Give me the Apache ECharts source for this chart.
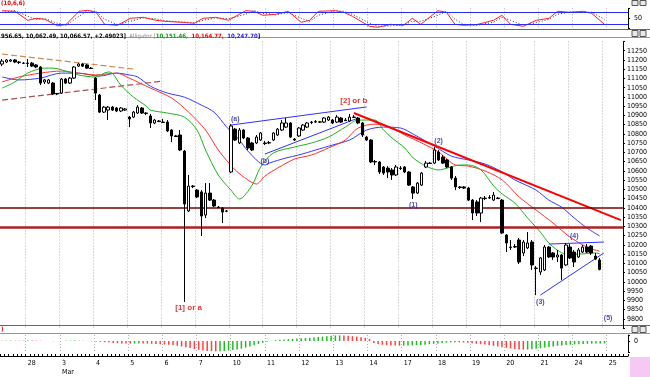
<!DOCTYPE html>
<html>
<head>
<meta charset="utf-8">
<script src="https://cdn.jsdelivr.net/npm/echarts@6/dist/echarts.min.js"></script>
<style>
html, body { margin: 0; padding: 0; background: #fff; }
#chart { width: 650px; height: 377px; }
</style>
</head>
<body>
<div id="chart"></div>
<script>
// Session labels on the time ruler (8 hourly bars per session)
const dayLabels = ['28', '3', '4', '5', '6', '7', '10', '11', '12', '13', '14', '17', '18', '19', '20', '21', '24', '25'];
const firstDayStart = 6;
const barsPerDay = 8;
const slotCount = 147;

// Hourly OHLC
const opens = [11178,11189,11194,11200,11189,11183,11183,11183,11173,11162,11081,11075,11075,11016,11021,11097,11075,11102,11167,11178,11173,11156,
  11102,11010,10918,10929,10945,10940,10924,10929,10891,10891,10913,10940,10913,10897,10859,10870,10864,10864,10821,10789,10794,10707,10383,10518,
  10496,10486,10361,10480,10442,10404,10399,10383,10594,10826,10751,10821,10778,10751,10751,10767,10751,10751,10767,10794,10821,10837,10859,10772,
  10789,10821,10837,10864,10864,10864,10864,10875,10875,10864,10886,10875,10870,10891,10886,10859,10783,10767,10648,10648,10621,10615,10605,10578,
  10615,10621,10594,10513,10480,10523,10621,10642,10642,10702,10675,10659,10621,10561,10513,10513,10507,10442,10432,10372,10453,10453,10442,10453,
  10442,10253,10188,10188,10226,10156,10183,10215,10074,10053,10064,10188,10156,10134,10145,10091,10188,10161,10134,10161,10188,10193,10139,10118];
const closes = [11194,11200,11200,11189,11186,11182,11181,11167,11162,11075,11092,11092,11016,11019,11097,11075,11102,11162,11178,11167,11156,11154,
  11021,10918,10945,10945,10929,10924,10940,10935,10881,10918,10945,10913,10910,10859,10875,10867,10862,10816,10789,10786,10713,10421,10518,10515,
  10459,10356,10480,10442,10410,10402,10377,10382,10843,10767,10821,10778,10724,10713,10783,10805,10748,10753,10805,10826,10859,10859,10783,10767,
  10832,10848,10859,10862,10867,10865,10886,10891,10859,10891,10864,10872,10891,10889,10859,10794,10767,10648,10651,10594,10588,10594,10578,10621,
  10613,10594,10523,10480,10534,10588,10642,10640,10713,10659,10642,10621,10561,10513,10510,10507,10442,10372,10372,10453,10450,10456,10469,10450,
  10264,10210,10185,10191,10107,10215,10210,10091,10072,10129,10188,10134,10134,10145,10074,10199,10129,10107,10172,10188,10161,10156,10123,10067];
const lows = [11167,11183,11189,11183,11178,11178,11162,11162,11156,11064,11070,11070,11010,11010,11016,11070,11070,11097,11162,11162,11151,11151,
  10983,10913,10913,10875,10924,10918,10918,10924,10837,10886,10908,10908,10902,10832,10853,10864,10859,10810,10756,10783,10707,9891,10377,10507,
  10453,10248,10345,10437,10404,10399,10318,10377,10588,10762,10745,10772,10713,10707,10745,10762,10740,10745,10762,10789,10816,10832,10778,10762,
  10783,10816,10832,10853,10859,10859,10859,10870,10853,10859,10859,10870,10864,10886,10853,10783,10762,10642,10632,10583,10578,10561,10551,10572,
  10605,10588,10518,10448,10475,10518,10615,10637,10637,10653,10637,10615,10551,10496,10502,10502,10437,10334,10356,10323,10442,10448,10437,10448,
  10258,10161,10172,10183,10096,10139,10177,10064,9928,10037,10058,10129,10118,10107,10010,10085,10123,10080,10129,10156,10156,10145,10118,10062];
const highs = [11205,11205,11205,11205,11194,11189,11205,11189,11178,11167,11097,11097,11081,11021,11102,11102,11108,11167,11183,11183,11178,11162,
  11108,11016,10951,10951,10951,10945,10945,10940,10897,10924,10956,10945,10918,10908,10881,10875,10881,10875,10826,10794,10821,10713,10578,10523,
  10502,10496,10534,10534,10448,10410,10404,10388,10853,10832,10832,10826,10783,10756,10794,10810,10762,10762,10810,10832,10875,10886,10864,10778,
  10837,10853,10864,10870,10875,10870,10891,10897,10881,10902,10891,10886,10908,10902,10891,10864,10789,10772,10659,10653,10626,10626,10615,10632,
  10626,10626,10599,10518,10540,10594,10653,10648,10729,10713,10686,10664,10626,10572,10518,10518,10513,10448,10442,10459,10464,10469,10486,10459,
  10448,10258,10226,10204,10237,10226,10269,10226,10085,10134,10199,10193,10161,10172,10150,10210,10204,10172,10183,10199,10204,10199,10156,10129];

// Alligator lines [bar, level]
const lips = [[0,11048],[3,11081],[6,11129],[10,11156],[12,11156],[15,11140],[18,11119],[22,11108],[25,11135],[26,11129],[28,11064],[31,10999],
  [34,10951],[35,10929],[39,10913],[43,10891],[46,10821],[48,10713],[51,10578],[54,10496],[56,10448],[59,10523],[61,10621],[64,10697],[69,10729],
  [73,10751],[77,10783],[81,10837],[84,10875],[88,10875],[90,10821],[92,10778],[95,10724],[97,10670],[100,10626],[103,10605],[105,10615],[108,10632],
  [110,10632],[113,10605],[116,10518],[118,10475],[121,10426],[124,10345],[127,10269],[129,10210],[131,10172],[133,10150],[136,10150],[140,10156],[141,10151]];
const teeth = [[0,11081],[4,11108],[9,11129],[14,11140],[18,11129],[22,11119],[27,11129],[30,11102],[35,11048],[40,10994],[44,10918],[48,10821],
  [51,10713],[55,10605],[58,10551],[60,10529],[62,10572],[65,10615],[69,10664],[73,10686],[77,10724],[81,10767],[84,10832],[88,10853],[92,10832],
  [95,10794],[99,10751],[103,10702],[107,10632],[110,10626],[114,10599],[118,10551],[122,10459],[126,10388],[130,10318],[134,10242],[138,10188],[141,10165]];
const jaw = [[0,11108],[4,11092],[9,11102],[14,11129],[18,11129],[23,11113],[27,11129],[30,11119],[32,11108],[35,11058],[39,11021],[43,10999],
  [47,10956],[50,10918],[53,10837],[56,10767],[58,10707],[62,10632],[63,10642],[67,10670],[70,10686],[74,10713],[78,10740],[82,10767],[86,10821],
  [90,10837],[94,10832],[97,10799],[102,10734],[106,10680],[110,10659],[114,10637],[118,10594],[121,10551],[126,10496],[129,10442],[132,10404],
  [135,10345],[138,10291],[141,10248]];

// Drawn trend lines and levels
const upperDashed = [[0,11232],[31,11151]];
const lowerDashed = [[0,10983],[38,11086]];
const channelTop = [[54,10848],[86,10946]];
const channelBottom = [[62,10691],[84,10886]];
const downTrend = [[83,10913],[146,10334]];
const triangleTop = [[129,10204],[142,10215]];
const triangleBottom = [[127,9928],[142,10156]];
const levels = [10400, 10297];

// Wave counts [bar, level, text]
const waveRed = [[44,9858,'[1] or a'],[83,10978,'[2] or b']];
const waveBlue = [[55,10880,'(a)'],[62,10653,'(b)'],[97,10415,'(1)'],[103,10762,'(2)'],[127,9891,'(3)'],[135,10248,'(4)'],[143,9804,'(5)']];

// Stochastic (10,6,6)
const stochK = [[0,88],[3,85],[6,40],[8,50],[10,45],[13,12],[15,20],[18,85],[20,90],[22,80],[24,20],[27,15],[30,50],[33,55],[36,40],[38,35],
  [42,30],[45,25],[47,50],[50,55],[53,40],[57,88],[59,85],[61,65],[64,70],[67,85],[70,30],[72,40],[74,85],[78,88],[80,80],[82,60],[86,10],[88,5],
  [91,20],[94,15],[96,50],[98,20],[102,88],[104,80],[106,20],[108,15],[111,18],[115,40],[117,65],[119,20],[122,10],[125,40],[128,50],[130,85],
  [133,80],[136,85],[138,75],[141,20]];
const stochD = [[0,80],[3,88],[6,60],[8,45],[10,48],[13,25],[15,15],[18,60],[20,88],[22,85],[24,45],[27,18],[30,35],[33,52],[36,48],[38,38],
  [42,32],[45,28],[47,40],[50,52],[53,48],[57,70],[59,88],[61,75],[64,68],[67,78],[70,50],[72,35],[74,65],[78,88],[80,85],[82,70],[86,25],[88,10],
  [91,12],[94,18],[96,35],[98,35],[102,65],[104,85],[106,45],[108,20],[111,15],[115,30],[117,55],[119,40],[122,15],[125,28],[128,45],[130,70],
  [133,82],[136,82],[138,80],[141,45]];

// Oscillator histogram
const aoValues = [2,3,4,3,2,3,5,4,3,2,1,-1,-2,-1,1,2,3,4,3,2,1,-2,-4,-8,-12,
  -16,-20,-22,-24,-25,-26,-25,-24,-25,-26,-28,-30,-32,-35,-38,-42,-48,-55,-62,-70,-80,-88,-95,-100,-102,
  -104,-103,-100,-95,-90,-84,-76,-66,-55,-42,-30,-18,-8,2,8,12,16,18,20,24,28,30,32,36,40,
  44,48,52,55,56,55,52,48,44,38,30,22,-20,-30,-38,-42,-45,-46,-47,-46,-45,-44,-42,-40,-38,
  -32,-28,-24,-20,-16,-14,-12,-13,-15,-18,-22,-28,-32,-36,-42,-48,-55,-62,-68,-75,-80,-84,-86,-85,-82,
  -78,-72,-66,-60,-54,-48,-44,-40,-36,-34,-32,-30,-28,-27,-26,-25,-24];

const chart = echarts.init(document.getElementById('chart'), null, { renderer: 'canvas' });

const NARROW = '"Liberation Sans Narrow", "DejaVu Sans Condensed", "Liberation Sans", sans-serif';
const SANS = '"Liberation Sans", Arial, sans-serif';
const NAVY = '#1c1c8c';

const categories = [];
for (let i = 0; i < slotCount; i++) {
    const d = i - firstDayStart;
    categories.push(d >= 0 && d % barsPerDay === 0 ? dayLabels[d / barsPerDay] : '');
}
const isDayStart = i => i >= firstDayStart && (i - firstDayStart) % barsPerDay === 0;

const candleData = opens.map((o, i) => [o, closes[i], lows[i], highs[i]]);
const aoData = aoValues.map((v, i) => ({
    value: v,
    itemStyle: { color: i > 0 && v > aoValues[i - 1] ? '#22bb22' : '#ff4040' }
}));

function xAxisFor(gridIndex, extra) {
    return Object.assign({
        type: 'category',
        gridIndex: gridIndex,
        data: categories,
        boundaryGap: true,
        axisLine: { show: false },
        axisTick: { show: false },
        axisLabel: { show: false },
        splitLine: {
            show: true,
            interval: (i) => isDayStart(i),
            lineStyle: { color: '#b0b0b0', type: [1, 2], width: 1 }
        }
    }, extra || {});
}

function straight(data, color, width, type, z) {
    return {
        type: 'line', xAxisIndex: 1, yAxisIndex: 1, data: data,
        symbol: 'none', silent: true, animation: false, z: z || 4,
        lineStyle: { color: color, width: width, type: type || 'solid' }
    };
}

function waveLabels(data, color, size) {
    return {
        type: 'scatter', xAxisIndex: 1, yAxisIndex: 1, symbolSize: 0, silent: true, z: 6,
        data: data.map(d => ({ value: [d[0], d[1]], name: d[2] })),
        label: {
            show: true, position: 'inside', formatter: p => p.name,
            color: color, fontSize: size, fontWeight: 'bold', fontFamily: SANS
        }
    };
}

const option = {
    backgroundColor: '#ffffff',
    animation: false,
    grid: [
        { left: 0, width: 628, top: 8.3, height: 20 },
        { left: 0, width: 628, top: 41.5, height: 286.5 },
        { left: 0, width: 628, top: 335, height: 17 }
    ],
    xAxis: [
        xAxisFor(0),
        xAxisFor(1),
        xAxisFor(2, {
            axisLine: { show: true, lineStyle: { color: '#000', width: 1 }, onZero: false },
            offset: 4,
            axisTick: { show: true, interval: 0, inside: true, length: 2, lineStyle: { color: '#000' } },
            axisLabel: {
                show: true, interval: (i) => isDayStart(i), align: 'left', margin: 3,
                fontSize: 7, fontFamily: NARROW, color: '#000',
                formatter: (v) => v === '3' ? '3\nMar' : v, lineHeight: 9
            }
        })
    ],
    yAxis: [
        {
            type: 'value', gridIndex: 0, position: 'right', min: 0, max: 100, interval: 50,
            axisLine: { show: true, lineStyle: { color: '#000' } },
            axisTick: { show: true, length: 2, lineStyle: { color: '#000' } },
            axisLabel: { fontSize: 7, fontFamily: NARROW, color: '#000', margin: 6,
                formatter: v => v === 50 ? '50' : '' },
            splitLine: { show: false }
        },
        {
            type: 'value', gridIndex: 1, position: 'right', min: 9750, max: 11300, interval: 50,
            axisLine: { show: true, lineStyle: { color: '#000' } },
            axisTick: { show: true, length: 2, lineStyle: { color: '#000' } },
            axisLabel: { fontSize: 7, fontFamily: NARROW, color: '#000', margin: 4,
                formatter: v => (v >= 9800 && v <= 11250) ? String(v) : '' },
            splitLine: { show: false }
        },
        {
            type: 'value', gridIndex: 2, position: 'right', min: -110, max: 60, interval: 110,
            axisLine: { show: true, lineStyle: { color: '#000' } },
            axisTick: { show: true, length: 2, lineStyle: { color: '#000' } },
            axisLabel: { fontSize: 7, fontFamily: NARROW, color: '#000', margin: 6,
                formatter: v => v === 0 ? '0' : '' },
            splitLine: { show: false }
        }
    ],
    series: [
        // stochastic
        {
            type: 'line', xAxisIndex: 0, yAxisIndex: 0, data: stochD, symbol: 'none', silent: true,
            lineStyle: { color: '#333', width: 1, type: [1, 2] }, z: 3
        },
        {
            type: 'line', xAxisIndex: 0, yAxisIndex: 0, data: stochK, symbol: 'none', silent: true,
            lineStyle: { color: '#ff2020', width: 1 }, z: 4,
            markLine: {
                silent: true, symbol: 'none', label: { show: false },
                lineStyle: { color: '#2a2aff', width: 1.2, type: 'solid' },
                data: [{ yAxis: 80 }, { yAxis: 20 }]
            }
        },
        // price
        {
            type: 'candlestick', xAxisIndex: 1, yAxisIndex: 1, data: candleData, barWidth: 3, silent: true, z: 5,
            itemStyle: { color: '#ffffff', color0: '#000000', borderColor: '#000000', borderColor0: '#000000', borderWidth: 1 },
            markLine: {
                silent: true, symbol: 'none', label: { show: false },
                data: [
                    { yAxis: levels[0], lineStyle: { color: '#7a0000', width: 1.5, type: 'solid' } },
                    { yAxis: levels[1], lineStyle: { color: '#b02020', width: 2.5, type: 'solid' } }
                ]
            }
        },
        { type: 'line', xAxisIndex: 1, yAxisIndex: 1, data: jaw, symbol: 'none', silent: true, smooth: 0.3, z: 3,
          lineStyle: { color: '#3838ff', width: 1 } },
        { type: 'line', xAxisIndex: 1, yAxisIndex: 1, data: teeth, symbol: 'none', silent: true, smooth: 0.3, z: 3,
          lineStyle: { color: '#ff3030', width: 1 } },
        { type: 'line', xAxisIndex: 1, yAxisIndex: 1, data: lips, symbol: 'none', silent: true, smooth: 0.3, z: 3,
          lineStyle: { color: '#20b020', width: 1 } },
        straight(upperDashed, '#d08a50', 1.2, [6, 3]),
        straight(lowerDashed, '#a85050', 1.2, [6, 3]),
        straight(channelTop, '#3030ff', 1),
        straight(channelBottom, '#3030ff', 1),
        straight(downTrend, '#ff0000', 2),
        straight(triangleTop, '#3030ff', 1),
        straight(triangleBottom, '#3030ff', 1),
        waveLabels(waveRed, '#e00000', 8),
        waveLabels(waveBlue, NAVY, 7),
        // histogram
        { type: 'bar', xAxisIndex: 2, yAxisIndex: 2, data: aoData, barWidth: 1.5, silent: true }
    ],
    graphic: [
        { type: 'rect', shape: { x: 630, y: 357, width: 20, height: 20 }, style: { fill: '#f6c8f4' }, silent: true },
        { type: 'line', shape: { x1: 0, y1: 29.5, x2: 650, y2: 29.5 }, style: { stroke: '#666', lineWidth: 1 } },
        { type: 'line', shape: { x1: 0, y1: 37.5, x2: 650, y2: 37.5 }, style: { stroke: '#999', lineWidth: 1 } },
        { type: 'line', shape: { x1: 0, y1: 325.5, x2: 650, y2: 325.5 }, style: { stroke: '#666', lineWidth: 1 } },
        { type: 'line', shape: { x1: 0, y1: 333.5, x2: 650, y2: 333.5 }, style: { stroke: '#999', lineWidth: 1 } },
        {
            type: 'text', left: 1, top: 0, silent: true,
            style: { text: '(10,6,6)', fill: '#e00000', font: 'bold 6px ' + NARROW }
        },
        {
            type: 'text', left: 1, top: 30.5, silent: true,
            style: {
                text: '{k|956.65, 10,062.49, 10,066.57, +2.49023]} {a|Alligator [}{g|10,151.46,} {r|10,164.77,} {b|10,247.70}{k|]}',
                rich: {
                    k: { fill: '#000', font: 'bold 6px ' + NARROW },
                    a: { fill: '#888', font: '6px ' + NARROW },
                    g: { fill: '#119911', font: 'bold 6px ' + NARROW },
                    r: { fill: '#ee0000', font: 'bold 6px ' + NARROW },
                    b: { fill: '#2020ee', font: 'bold 6px ' + NARROW }
                }
            }
        },
        {
            type: 'text', left: 1, top: 326.5, silent: true,
            style: { text: ')', fill: '#e00000', font: 'bold 6px ' + NARROW }
        },
        // window buttons
        { type: 'rect', shape: { x: 632, y: 30.5, width: 6, height: 6 }, style: { fill: '#e8e8e8', stroke: '#555', lineWidth: 1 } },
        { type: 'rect', shape: { x: 640, y: 30.5, width: 6, height: 6 }, style: { fill: '#e8e8e8', stroke: '#555', lineWidth: 1 } },
        { type: 'rect', shape: { x: 632, y: 326.5, width: 6, height: 6 }, style: { fill: '#e8e8e8', stroke: '#555', lineWidth: 1 } },
        { type: 'rect', shape: { x: 640, y: 326.5, width: 6, height: 6 }, style: { fill: '#e8e8e8', stroke: '#555', lineWidth: 1 } },
        { type: 'rect', shape: { x: 632, y: 0.5, width: 6, height: 5 }, style: { fill: '#e8e8e8', stroke: '#555', lineWidth: 1 } },
        { type: 'rect', shape: { x: 640, y: 0.5, width: 6, height: 5 }, style: { fill: '#e8e8e8', stroke: '#555', lineWidth: 1 } }
    ]
};

chart.setOption(option);
</script>
</body>
</html>
